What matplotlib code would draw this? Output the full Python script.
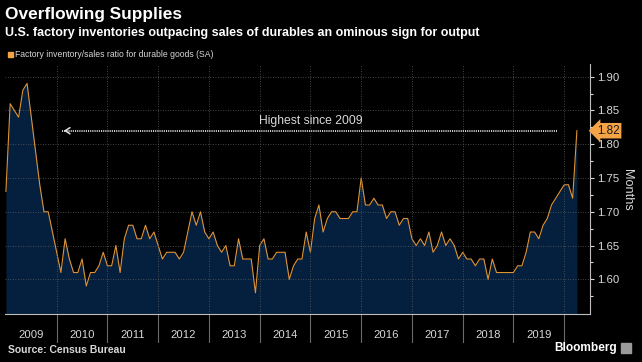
import numpy as np
import matplotlib.pyplot as plt
from matplotlib.patches import Rectangle
from matplotlib.transforms import blended_transform_factory

plt.rcParams["font.family"] = ["Liberation Sans", "DejaVu Sans"]

# monthly inventory/sales ratio, Jan 2009 .. Apr 2020
ratio = [
    1.73, 1.86, 1.85, 1.84, 1.88, 1.89, 1.84, 1.79, 1.74, 1.70, 1.70, 1.67,  # 2009
    1.64, 1.61, 1.66, 1.63, 1.61, 1.61, 1.63, 1.59, 1.61, 1.61, 1.62, 1.64,  # 2010
    1.62, 1.62, 1.65, 1.61, 1.66, 1.68, 1.68, 1.66, 1.66, 1.68, 1.66, 1.67,  # 2011
    1.65, 1.63, 1.64, 1.64, 1.64, 1.63, 1.64, 1.67, 1.70, 1.68, 1.70, 1.67,  # 2012
    1.66, 1.67, 1.65, 1.64, 1.65, 1.62, 1.62, 1.66, 1.63, 1.63, 1.63, 1.58,  # 2013
    1.65, 1.66, 1.63, 1.63, 1.64, 1.64, 1.64, 1.60, 1.62, 1.63, 1.63, 1.67,  # 2014
    1.64, 1.69, 1.71, 1.67, 1.69, 1.70, 1.70, 1.69, 1.69, 1.69, 1.70, 1.70,  # 2015
    1.75, 1.71, 1.71, 1.72, 1.71, 1.71, 1.69, 1.70, 1.70, 1.68, 1.69, 1.69,  # 2016
    1.66, 1.65, 1.66, 1.65, 1.67, 1.64, 1.65, 1.67, 1.65, 1.66, 1.65, 1.63,  # 2017
    1.64, 1.63, 1.63, 1.62, 1.63, 1.63, 1.60, 1.63, 1.61, 1.61, 1.61, 1.61,  # 2018
    1.61, 1.62, 1.62, 1.64, 1.67, 1.67, 1.66, 1.68, 1.69, 1.71, 1.72, 1.73,  # 2019
    1.74, 1.74, 1.72, 1.82,                                                  # 2020
]
years = [str(y) for y in range(2009, 2020)]
y_ticks = [1.60, 1.65, 1.70, 1.75, 1.80, 1.85, 1.90]
last_value = ratio[-1]
since_2009_high = 1.82

BG = "black"
FILL = "#05203e"
LINE = "#de9436"
ORANGE = "#f5a347"
GRID = "#5c5c5c"
TXT = "#d8d8d8"

W, H = 642, 362
fig = plt.figure(figsize=(W / 100, H / 100), dpi=100, facecolor=BG)
ax = fig.add_axes([5.5 / W, 48 / H, 584.5 / W, 250 / H], facecolor=BG)

months = np.arange(len(ratio))
ax.fill_between(months, ratio, 1.5, color=FILL, lw=0)
ax.plot(months, ratio, color=LINE, lw=0.8)

ax.set_xlim(-0.1, 138.1)
ax.set_ylim(1.5486, 1.9188)

# y axis on the right
ax.yaxis.tick_right()
ax.set_yticks(y_ticks)
ax.set_yticklabels([f"{v:.2f}" for v in y_ticks])
ax.set_yticks(np.arange(1.575, 1.92, 0.05), minor=True)
ax.tick_params(axis="y", which="major", direction="out", length=3, width=0.8,
               color=TXT, labelcolor=TXT, labelsize=8.2, pad=2)
ax.tick_params(axis="y", which="minor", direction="out", length=2, width=0.8, color=TXT)
ax.set_xticks([])
ax.grid(axis="y", ls=(0, (1, 2)), color=GRID, lw=0.6)

for side in ["left", "top"]:
    ax.spines[side].set_visible(False)
ax.spines["right"].set_color("#bdbdbd")
ax.spines["bottom"].set_color("#bdbdbd")

# year separators and labels
trans = blended_transform_factory(ax.transData, ax.transAxes)
for i in range(1, len(years) + 1):
    m = 12 * i
    ax.axvline(m, ls=(0, (1, 2)), color=GRID, lw=0.6)
    ax.plot([m, m], [0, -0.112], transform=trans, color="#6a6a6a", lw=0.8, clip_on=False)
for i, yr in enumerate(years):
    ax.text(12 * i + 6, -0.084, yr, transform=trans, ha="center", va="center",
            color=TXT, fontsize=8.1)

# "highest since" arrow, dotted
ax.plot([13.3, 130.2], [since_2009_high] * 2, color="#e0e0e0", lw=1.3, ls=(0, (0.6, 0.6)))
ax.annotate("", xy=(13, since_2009_high), xytext=(15, since_2009_high),
            arrowprops=dict(arrowstyle="->,head_length=0.35,head_width=0.22",
                            color="#e0e0e0", lw=1.1))
ax.text(72, 1.835, "Highest since 2009", ha="center", va="center", color=TXT, fontsize=8.7)

# last value badge
ytrans = blended_transform_factory(ax.transAxes, ax.transData)
ax.text(1 + 7 / 584.5, last_value, f"{last_value:.2f}", transform=ytrans, ha="left",
        va="center", fontsize=8.4, color="#1a1a1a",
        bbox=dict(boxstyle="larrow,pad=0.15", fc=ORANGE, ec="none"))

fig.text(627 / W, 1 - 190 / H, "Months", rotation=-90, ha="center", va="center",
         color=TXT, fontsize=9.2)

# titles
fig.text(5 / W, 1 - 15 / H, "Overflowing Supplies", ha="left", va="center",
         color="white", fontsize=12.4, fontweight="bold")
fig.text(5 / W, 1 - 33 / H,
         "U.S. factory inventories outpacing sales of durables an ominous sign for output",
         ha="left", va="center", color="white", fontsize=9.0, fontweight="bold")
fig.patches.append(Rectangle((8 / W, 1 - 57 / H), 5 / W, 5 / H, transform=fig.transFigure,
                             color=ORANGE, figure=fig))
fig.text(15 / W, 1 - 54.5 / H, "Factory inventory/sales ratio for durable goods (SA)",
         ha="left", va="center", color=TXT, fontsize=6.2)

# footer
fig.text(8 / W, 1 - 350 / H, "Source: Census Bureau", ha="left", va="center",
         color=TXT, fontsize=7.5, fontweight="bold")
fig.text(617 / W, 1 - 348 / H, "Bloomberg", ha="right", va="center",
         color="white", fontsize=8.6, fontweight="bold")
fig.patches.append(Rectangle((621 / W, 1 - 353 / H), 10 / W, 10 / H, transform=fig.transFigure,
                             color="#9a9a9a", figure=fig))

fig.savefig("out.png", dpi=100, facecolor=BG)
